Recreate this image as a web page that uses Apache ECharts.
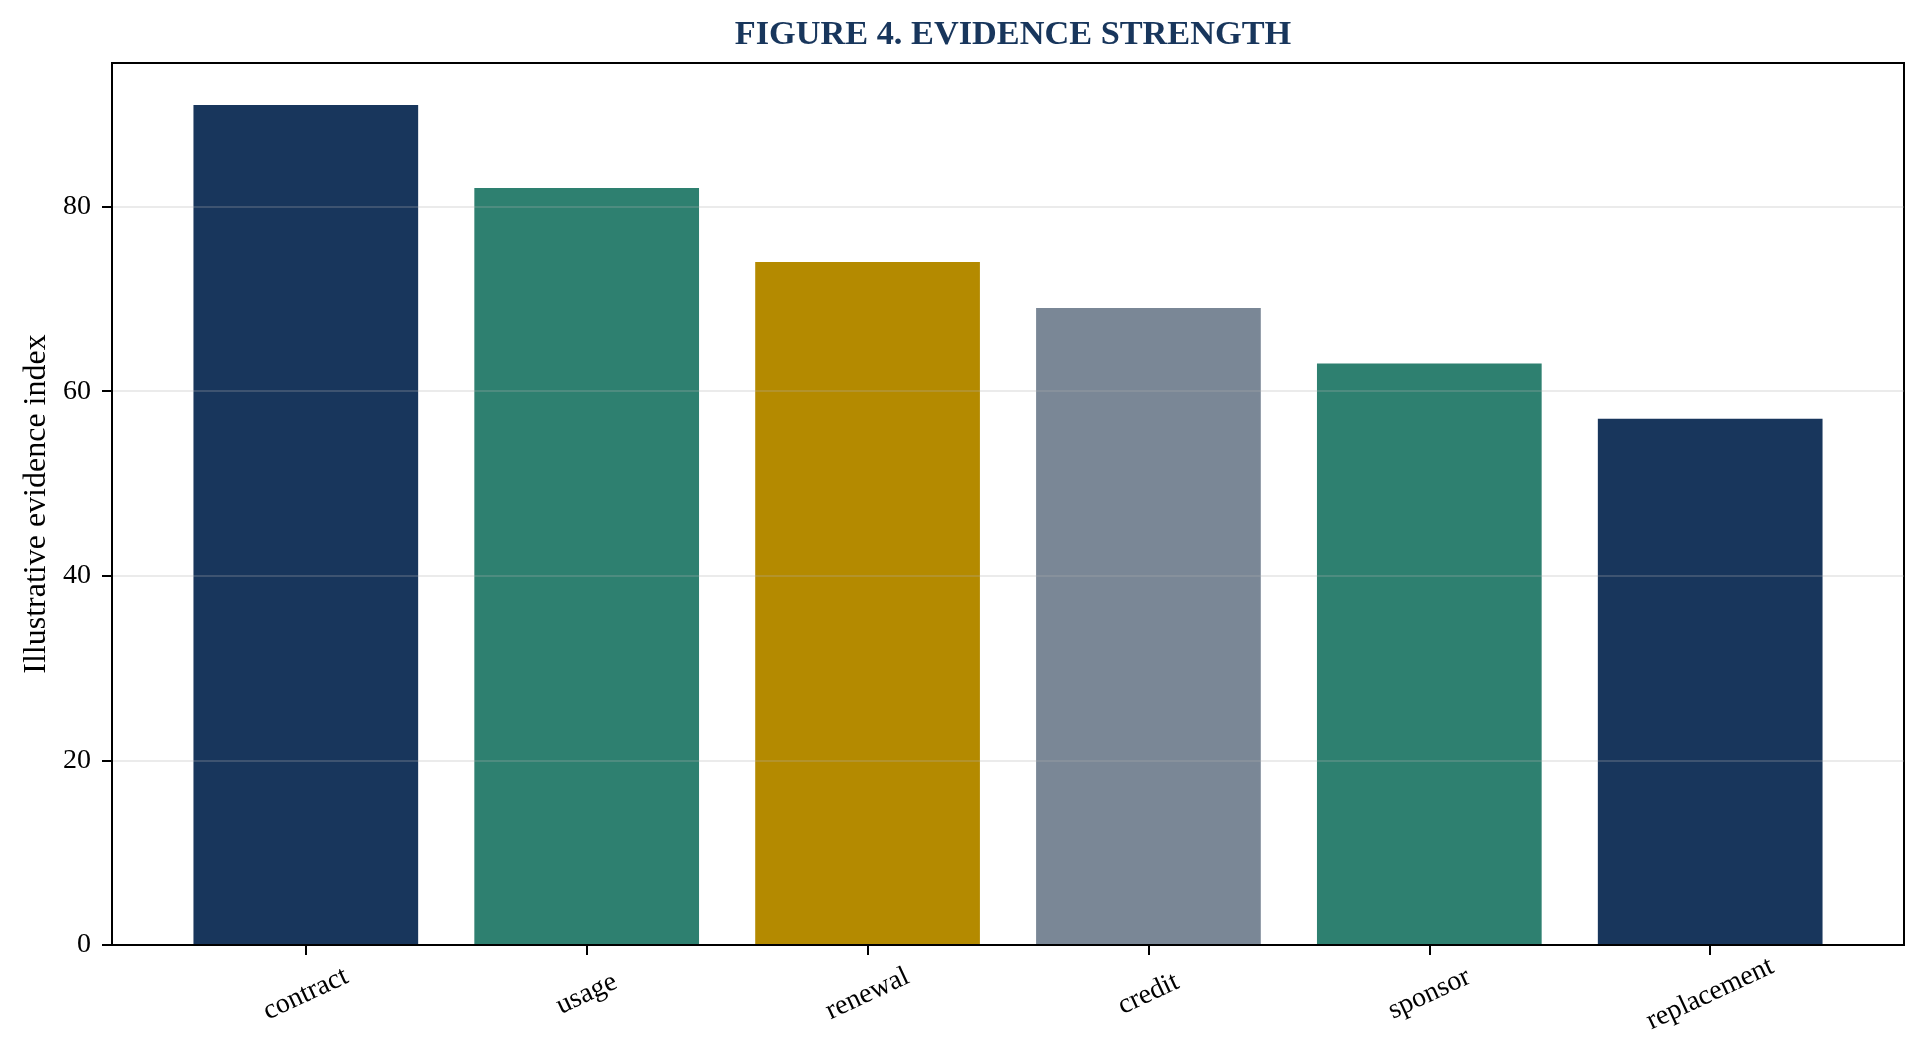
<!DOCTYPE html>
<html>
<head>
<meta charset="utf-8">
<title>Figure 4. Evidence strength</title>
<script src="https://cdn.jsdelivr.net/npm/echarts@6/dist/echarts.min.js"></script>
<style>
    html, body { margin: 0; padding: 0; background: #ffffff; }
    #chart { width: 1924px; height: 1062px; }
</style>
</head>
<body>
<div id="chart"></div>
<script>
    // data
    var categories = ['contract', 'usage', 'renewal', 'credit', 'sponsor', 'replacement'];
    var evidence = [91, 82, 74, 69, 63, 57];
    var yTicks = [0, 20, 40, 60, 80];

    var barColors = ['#18365c', '#2e8070', '#b48a00', '#7a8796', '#2e8070', '#18365c'];
    var navy = '#18365c';
    var serif = '"Liberation Serif", "Times New Roman", serif';

    var gridLeft = 112, gridRight = 20, gridTop = 63, gridBottom = 117;
    var chartWidth = 1924;

    // matplotlib-like limits: bars of width 0.8 plus 5% margins
    var barHalf = 0.4;
    var xSpan = (categories.length - 1) + 2 * barHalf;
    var xMin = -barHalf - 0.05 * xSpan;
    var xMax = categories.length - 1 + barHalf + 0.05 * xSpan;
    var yMax = Math.max.apply(null, evidence) * 1.05;

    var positions = categories.map(function (c, i) { return i; });

    var myChart = echarts.init(document.getElementById('chart'));
    var option = {
        backgroundColor: '#ffffff',
        animation: false,
        title: {
            text: 'FIGURE 4. EVIDENCE STRENGTH',
            left: gridLeft + (chartWidth - gridLeft - gridRight) / 2,
            textAlign: 'center',
            top: 13,
            textStyle: {
                fontFamily: serif,
                fontWeight: 'bold',
                fontSize: 34.3,
                color: navy
            }
        },
        grid: {
            left: gridLeft,
            right: gridRight,
            top: gridTop,
            bottom: gridBottom,
            show: true,
            borderColor: '#000000',
            borderWidth: 2,
            backgroundColor: 'transparent'
        },
        xAxis: {
            type: 'value',
            min: xMin,
            max: xMax,
            axisLine: {show: true, onZero: false, lineStyle: {color: '#000000', width: 2}},
            axisTick: {
                show: true,
                inside: false,
                length: 10,
                customValues: positions,
                lineStyle: {color: '#000000', width: 2}
            },
            axisLabel: {
                customValues: positions,
                rotate: 25,
                align: 'center',
                verticalAlign: 'middle',
                margin: 49,
                fontFamily: serif,
                fontSize: 28,
                color: '#000000',
                formatter: function (v) {
                    return categories[Math.round(v)];
                }
            },
            splitLine: {show: false}
        },
        yAxis: {
            type: 'value',
            min: 0,
            max: yMax,
            name: 'Illustrative evidence index',
            nameLocation: 'middle',
            nameGap: 58,
            nameTextStyle: {
                fontFamily: serif,
                fontSize: 32,
                color: '#000000'
            },
            axisLine: {show: true, onZero: false, lineStyle: {color: '#000000', width: 2}},
            axisTick: {
                show: true,
                inside: false,
                length: 10,
                customValues: yTicks,
                lineStyle: {color: '#000000', width: 2}
            },
            axisLabel: {
                customValues: yTicks,
                margin: 21,
                fontFamily: serif,
                fontSize: 28,
                color: '#000000'
            },
            splitLine: {
                show: true,
                lineStyle: {color: '#b0b0b0', width: 2, opacity: 0.25}
            }
        },
        series: [
            {
                type: 'custom',
                z: -1,
                data: evidence.map(function (v, i) { return [i, v]; }),
                renderItem: function (params, api) {
                    var x = api.value(0);
                    var v = api.value(1);
                    var topLeft = api.coord([x - barHalf, v]);
                    var bottomRight = api.coord([x + barHalf, 0]);
                    return {
                        type: 'rect',
                        shape: {
                            x: topLeft[0],
                            y: topLeft[1],
                            width: bottomRight[0] - topLeft[0],
                            height: bottomRight[1] - topLeft[1]
                        },
                        style: {fill: barColors[params.dataIndex]}
                    };
                }
            }
        ]
    };

    myChart.setOption(option);
</script>
</body>
</html>
